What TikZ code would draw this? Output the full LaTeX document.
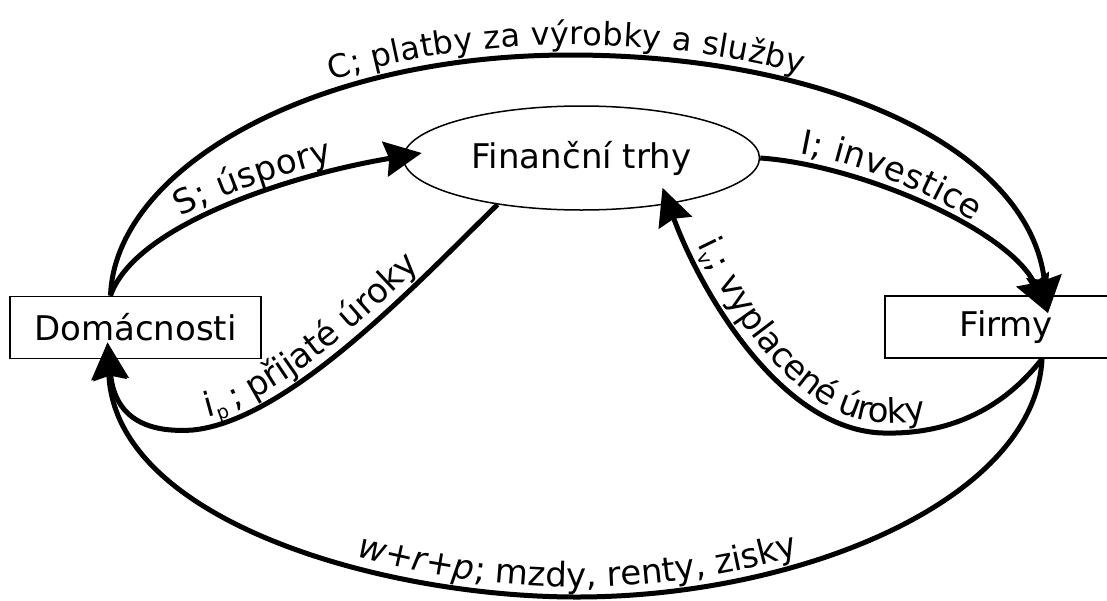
\documentclass[tikz,border=0pt]{standalone}
\usepackage{fontspec}
\setmainfont{DejaVu Sans}
\usetikzlibrary{arrows.meta,shapes.geometric,decorations.text}
\def\indexfont{\fontsize{19}{19}\selectfont}
\def\mensi{\fontsize{32}{38}\selectfont}
\begin{document}
\fontsize{34}{40}\selectfont
\begin{tikzpicture}[x=1pt,y=-1pt,>={Stealth[length=37pt,width=35pt,inset=4pt]},
    sektor/.style={draw,line width=1.8pt,minimum width=#1,minimum height=62pt,
      inner sep=0pt,font=\fontsize{34}{40}\selectfont},
    tok/.style={line width=5pt},
    popis/.style args={#1 at #2}{postaction={decorate,arrows=-,decoration={text along path,
      text={#1},text align={left indent=#2},raise=10pt}}},
    index/.style args={#1 at #2}{postaction={decorate,arrows=-,decoration={text along path,
      text={|\indexfont|#1},text align={left indent=#2},raise=4pt}}}]
  \useasboundingbox (0,0) rectangle (1107,600);
  \node[sektor=251pt] (dom) at (135.5,327.5) {Domácnosti};
  \node[sektor=243pt] (firmy) at (1006.5,327) {Firmy};
  \node[draw,ellipse,line width=1.5pt,minimum width=356pt,minimum height=104pt,
    inner sep=0pt,font=\fontsize{34}{40}\selectfont] (trhy) at (581.5,158) {Finanční trhy};
  \draw[tok,->,popis={{|\mensi|C; platby za výrobky a služby} at 322pt}]
    ([xshift=-25pt]dom.north) .. controls (115,170) and (310,55) .. (570,55)
    .. controls (830,55) and (1030,150) .. ([xshift=41.5pt,yshift=-18pt]firmy.north);
  \draw[tok,->,popis={{S; úspory} at 105pt}]
    ([xshift=-25pt]dom.north) .. controls (135,225) and (290,175) .. ([xshift=19pt,yshift=5pt]trhy.west);
  \draw[tok,->,popis={{I; investice} at 38pt}]
    (trhy.east) .. controls (860,165) and (1010,230) .. ([xshift=41.5pt,yshift=-18pt]firmy.north);
  \draw[tok,<-,popis={i at 158pt},index={p at 169pt},popis={{; přijaté úroky} at 188pt}]
    ([xshift=-28pt,yshift=17pt]dom.south) .. controls (115,420) and (150,433) .. (193,430)
    .. controls (290,420) and (420,280) .. (trhy.209);
  \draw[tok,<-,popis={i at 66pt},index={v at 77pt},popis={{; vyplacené úroky} at 88pt}]
    ([xshift=81pt,yshift=23pt]trhy.south) .. controls (700,290) and (780,430) .. (883,433)
    .. controls (960,435) and (1010,400) .. ([xshift=35.5pt]firmy.south);
  \draw[tok,<-,popis={{|\itshape|w+r+p|\upshape|; mzdy, renty, zisky} at 356pt}]
    ([xshift=-28pt,yshift=17pt]dom.south) .. controls (115,520) and (380,597) .. (577,597)
    .. controls (800,597) and (1035,500) .. ([xshift=35.5pt]firmy.south);
\end{tikzpicture}
\end{document}
